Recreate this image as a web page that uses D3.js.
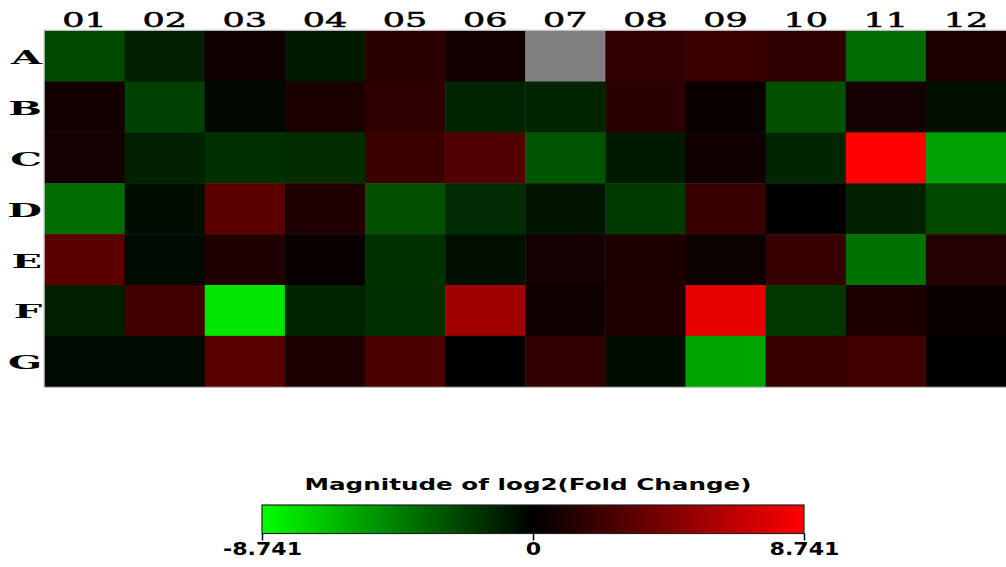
<!DOCTYPE html>
<meta charset="utf-8">
<head>
  <title>log2 fold change heatmap</title>
  <script src="https://d3js.org/d3.v7.min.js"></script>
  <style>
    body { margin: 0; background: #fff; }
    .colLab, .rowLab { font-family: "DejaVu Serif", serif; font-weight: bold; fill: #000; }
    .legend text { font-family: "DejaVu Sans", Verdana, sans-serif; font-weight: bold; fill: #000; }
  </style>
</head>
<body>
<div id="chart"></div>
<script>
// plate layout: columns and rows
var cols = ["01","02","03","04","05","06","07","08","09","10","11","12"];
var rows = ["A","B","C","D","E","F","G"];

// log2 fold change per well (null = no value, drawn gray)
var rowA = [-2.54, -1.03, 0.51, -0.89, 1.44, 0.62, null, 1.65, 1.99, 1.58, -3.70, 0.89];
var rowB = [0.62, -2.19, -0.27, 0.89, 1.51, -1.23, -1.23, 1.44, 0.27, -2.74, 0.69, -0.55];
var rowC = [0.69, -1.17, -1.65, -1.51, 1.99, 2.74, -2.95, -0.89, 0.55, -1.30, 8.74, -5.48];
var rowD = [-3.70, -0.48, 3.09, 1.10, -2.74, -1.44, -0.69, -1.99, 1.92, 0.00, -1.17, -2.47];
var rowE = [3.09, -0.34, 1.10, 0.27, -1.71, -0.55, 0.69, 0.96, 0.41, 1.85, -3.91, 1.23];
var rowF = [-1.03, 2.19, -7.88, -1.23, -1.65, 5.48, 0.48, 1.03, 7.88, -1.92, 0.96, 0.34];
var rowG = [-0.34, -0.34, 3.02, 0.96, 2.54, 0.00, 1.71, -0.48, -5.62, 1.85, 2.19, 0.07];
var values = [rowA, rowB, rowC, rowD, rowE, rowF, rowG];

// colour legend
var legendTitle = "Magnitude of log2(Fold Change)";
var maxAbs = 8.741;
var legendTicks = [-8.741, 0, 8.741];
var legendTickLabels = ["-8.741", "0", "8.741"];

var W = 1006, H = 567;
var grid = {left: 44.5, top: 30.7, right: 1006, bottom: 386.7};

var svg = d3.select("#chart").append("svg")
    .attr("width", W)
    .attr("height", H);

var x = d3.scaleBand().domain(cols).range([grid.left, grid.right]);
var y = d3.scaleBand().domain(rows).range([grid.top, grid.bottom]);

var color = d3.scaleLinear()
    .domain([-maxAbs, 0, maxAbs])
    .range(["#00ff00", "#000000", "#ff0000"])
    .clamp(true);

// flatten to cells
var cells = [];
values.forEach(function(r, i) {
  r.forEach(function(v, j) {
    cells.push({row: rows[i], col: cols[j], value: v});
  });
});

svg.append("g")
  .selectAll("rect")
  .data(cells)
  .enter().append("rect")
    .attr("x", function(d) { return x(d.col); })
    .attr("y", function(d) { return y(d.row); })
    .attr("width", x.bandwidth() + 0.5)
    .attr("height", y.bandwidth() + 0.5)
    .attr("fill", function(d) { return d.value === null ? "#808080" : color(d.value); });

// thin frame around the grid
svg.append("rect")
  .attr("x", grid.left - 0.5)
  .attr("y", grid.top - 0.5)
  .attr("width", grid.right - grid.left + 1)
  .attr("height", grid.bottom - grid.top + 1)
  .attr("fill", "none")
  .attr("stroke", "#bbb")
  .attr("stroke-width", 1);

// stretch helper: the reference text is wide
function stretch(sel, f) {
  sel.each(function() {
    var n = this.getComputedTextLength();
    d3.select(this).attr("textLength", n * f).attr("lengthAdjust", "spacingAndGlyphs");
  });
}

// column labels
svg.append("g").selectAll("text")
  .data(cols)
  .enter().append("text")
    .attr("class", "colLab")
    .attr("x", function(d) { return x(d) + x.bandwidth() / 2; })
    .attr("y", 27)
    .attr("text-anchor", "middle")
    .style("font-size", "20px")
    .style("font-weight", "normal")
    .style("stroke", "#000")
    .style("stroke-width", 0.5)
    .text(function(d) { return d; })
    .call(stretch, 1.75);

// row labels
svg.append("g").selectAll("text")
  .data(rows)
  .enter().append("text")
    .attr("class", "rowLab")
    .attr("x", 42)
    .attr("y", function(d) { return y(d) + y.bandwidth() / 2 + 8; })
    .attr("text-anchor", "end")
    .style("font-size", "19px")
    .text(function(d) { return d; })
    .call(stretch, 2.1);

// legend
var lg = svg.append("g").attr("class", "legend");
var lx = d3.scaleLinear().domain([-maxAbs, maxAbs]).range([262, 804]);

var defs = svg.append("defs");
var grad = defs.append("linearGradient").attr("id", "fcgrad");
grad.selectAll("stop")
  .data([-maxAbs, 0, maxAbs])
  .enter().append("stop")
    .attr("offset", function(d) { return (d + maxAbs) / (2 * maxAbs); })
    .attr("stop-color", function(d) { return color(d); });

lg.append("text")
  .attr("x", 528)
  .attr("y", 490)
  .attr("text-anchor", "middle")
  .style("font-size", "16px")
  .attr("textLength", 447)
  .attr("lengthAdjust", "spacingAndGlyphs")
  .text(legendTitle);

lg.append("rect")
  .attr("x", lx(-maxAbs))
  .attr("y", 505)
  .attr("width", lx(maxAbs) - lx(-maxAbs))
  .attr("height", 28.5)
  .attr("fill", "url(#fcgrad)")
  .attr("stroke", "#222")
  .attr("stroke-width", 1.2);

var axis = d3.axisBottom(lx)
  .tickValues(legendTicks)
  .tickSize(7)
  .tickFormat(function(d, i) { return legendTickLabels[i]; });

var ag = lg.append("g")
  .attr("transform", "translate(0,533.5)")
  .call(axis);
ag.select(".domain").remove();
ag.selectAll(".tick line").attr("stroke", "#000").attr("stroke-width", 1.5);
ag.selectAll(".tick text")
  .attr("y", 9)
  .attr("dy", "0.71em")
  .style("font-size", "17px")
  .style("font-family", "'DejaVu Sans', Verdana, sans-serif")
  .style("font-weight", "bold")
  .call(stretch, 1.3);
</script>
</body>
</html>
